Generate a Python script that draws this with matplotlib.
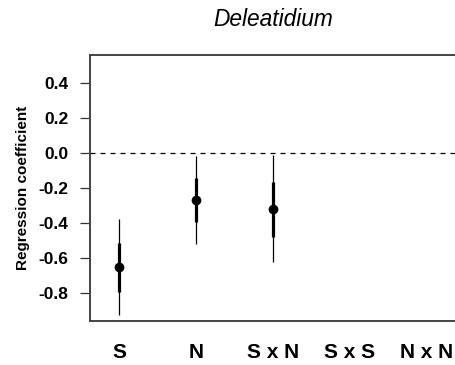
import matplotlib
matplotlib.use("Agg")
import matplotlib.pyplot as plt

plt.rcParams["font.family"] = ["Liberation Sans", "DejaVu Sans"]

# term estimates with 50% and 95% intervals
terms = ["S", "N", "S x N", "S x S", "N x N"]
estimate = [-0.652, -0.269, -0.320]
inner_lo = [-0.791, -0.396, -0.478]
inner_hi = [-0.515, -0.142, -0.165]
outer_lo = [-0.925, -0.518, -0.620]
outer_hi = [-0.377, -0.017, -0.013]
yticks = [-0.8, -0.6, -0.4, -0.2, 0.0, 0.2, 0.4]

fig = plt.figure(figsize=(4.56, 3.65), dpi=100)
ax = fig.add_axes([0.1974, 0.1214, 0.840, 0.7279])

xs = list(range(1, len(terms) + 1))
n = len(estimate)

ax.axhline(0, color="black", lw=0.9, ls=(0, (4, 4)), zorder=1)
ax.vlines(xs[:n], outer_lo, outer_hi, color="black", lw=0.9, zorder=2)
ax.vlines(xs[:n], inner_lo, inner_hi, color="black", lw=2.3, zorder=3)
ax.plot(xs[:n], estimate, "o", color="black", ms=6, zorder=4)

ax.set_xlim(0.62, 5.6)
ax.set_ylim(-0.956, 0.557)

ax.set_xticks(xs)
ax.set_xticklabels(terms, fontsize=15, fontweight="bold")
ax.tick_params(axis="x", length=0, pad=16)
ax.set_yticks(yticks)
ax.set_yticklabels([f"{v:.1f}" for v in yticks], fontsize=12.5, fontweight="bold")
ax.tick_params(axis="y", length=7.5, width=0.9, color="#333333", pad=8)

# title and y label sit relative to the visible part of the frame
fig.text(23 / 456, 1 - 187.5 / 365, "Regression coefficient", rotation=90,
         ha="center", va="center", fontsize=11, fontweight="bold")
fig.text(273 / 456, 1 - 20 / 365, "Deleatidium", ha="center", va="center",
         fontsize=16.4, style="italic")

for side in ["left", "bottom", "top"]:
    ax.spines[side].set_color("#444444")
    ax.spines[side].set_linewidth(1.4)
ax.spines["right"].set_visible(False)

fig.savefig("out.png", dpi=100)
